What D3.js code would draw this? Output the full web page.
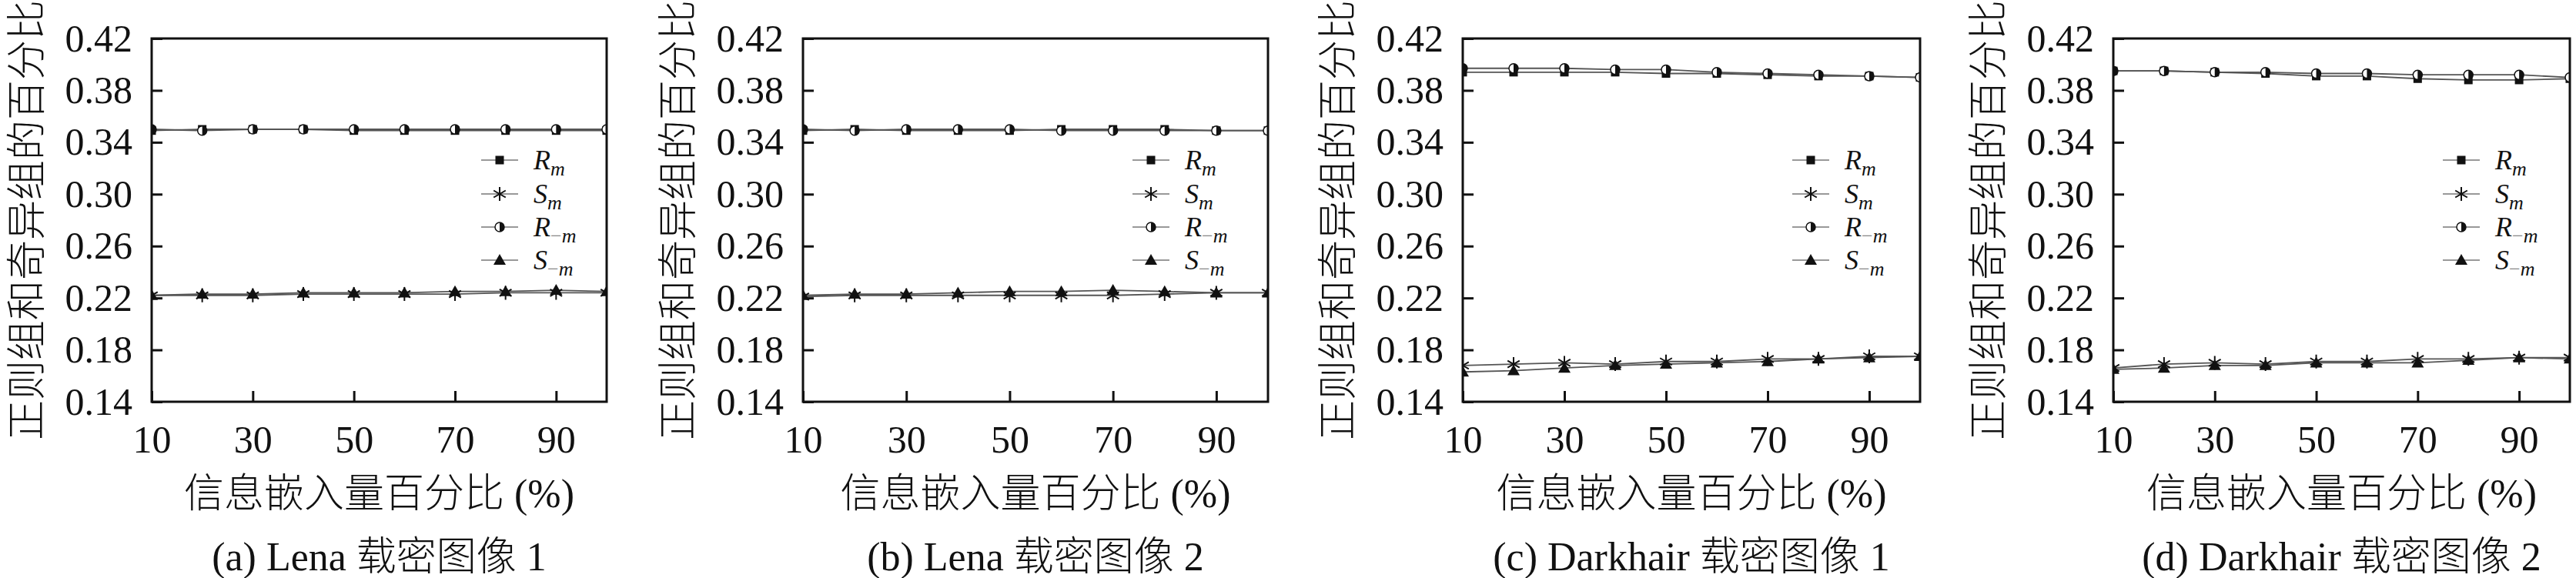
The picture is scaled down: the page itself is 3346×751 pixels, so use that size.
<!DOCTYPE html>
<html>
<head>
<meta charset="utf-8">
<script src="https://cdn.jsdelivr.net/npm/d3@7"></script>
<style>
  body { margin: 0; background: #fff; }
  text { font-family: "Liberation Serif", "Noto Sans CJK SC", serif; fill: #111; }
  .cjk { font-weight: 300; }
</style>
</head>
<body>
<div id="chart"></div>
<script>
// embedding percentage on the x axis
const xValues = [10, 20, 30, 40, 50, 60, 70, 80, 90, 100];
const xTicks = [10, 30, 50, 70, 90];
const yTicks = [0.14, 0.18, 0.22, 0.26, 0.30, 0.34, 0.38, 0.42];

const captions = ["(a) Lena 载密图像 1", "(b) Lena 载密图像 2",
                  "(c) Darkhair 载密图像 1", "(d) Darkhair 载密图像 2"];
const yTitle = "正则组和奇异组的百分比";
const xTitle = "信息嵌入量百分比 (%)";

// (a) Lena 1
const aRm    = [0.349, 0.350, 0.350, 0.350, 0.349, 0.349, 0.349, 0.349, 0.349, 0.349];
const aSm    = [0.222, 0.222, 0.222, 0.223, 0.223, 0.223, 0.223, 0.224, 0.224, 0.224];
const aRneg  = [0.350, 0.349, 0.350, 0.350, 0.350, 0.350, 0.350, 0.350, 0.350, 0.350];
const aSneg  = [0.222, 0.223, 0.223, 0.224, 0.224, 0.224, 0.225, 0.225, 0.226, 0.225];
// (b) Lena 2
const bRm    = [0.349, 0.350, 0.349, 0.349, 0.349, 0.350, 0.350, 0.350, 0.349, 0.349];
const bSm    = [0.221, 0.222, 0.222, 0.222, 0.222, 0.222, 0.222, 0.223, 0.224, 0.224];
const bRneg  = [0.350, 0.349, 0.350, 0.350, 0.350, 0.349, 0.349, 0.349, 0.349, 0.349];
const bSneg  = [0.222, 0.223, 0.223, 0.224, 0.225, 0.225, 0.226, 0.225, 0.224, 0.224];
// (c) Darkhair 1
const cRm    = [0.394, 0.394, 0.394, 0.394, 0.393, 0.393, 0.392, 0.391, 0.391, 0.390];
const cSm    = [0.168, 0.169, 0.170, 0.169, 0.171, 0.171, 0.173, 0.173, 0.175, 0.175];
const cRneg  = [0.397, 0.397, 0.397, 0.396, 0.396, 0.394, 0.393, 0.392, 0.391, 0.390];
const cSneg  = [0.163, 0.164, 0.166, 0.168, 0.169, 0.170, 0.171, 0.173, 0.174, 0.175];
// (d) Darkhair 2
const dRm    = [0.395, 0.395, 0.394, 0.393, 0.391, 0.391, 0.389, 0.388, 0.388, 0.389];
const dSm    = [0.166, 0.169, 0.170, 0.169, 0.171, 0.171, 0.173, 0.173, 0.174, 0.174];
const dRneg  = [0.395, 0.395, 0.394, 0.394, 0.393, 0.393, 0.392, 0.392, 0.392, 0.390];
const dSneg  = [0.165, 0.166, 0.168, 0.168, 0.170, 0.170, 0.170, 0.172, 0.174, 0.173];

const panelData = [
    [aRm, aSm, aRneg, aSneg],
    [bRm, bSm, bRneg, bSneg],
    [cRm, cSm, cRneg, cSneg],
    [dRm, dSm, dRneg, dSneg]
];
const markerTypes = ["square", "asterisk", "halfcircle", "triangle"];
const legendSub = ["m", "m", "−m", "−m"];
const legendMain = ["R", "S", "R", "S"];

// layout (pixels)
const panelLeft = [197, 1043, 1900, 2745];
const panelWidth = [591, 604, 594, 593];
const plotTop = 50, plotBottom = 522;

const svg = d3.select("#chart").append("svg")
    .attr("width", 3346)
    .attr("height", 751);

function drawMarker(g, type, cx, cy) {
    let m = g.append("g").attr("transform", "translate(" + cx + "," + cy + ")");
    if (type == "square") {
        m.append("rect").attr("x", -5.5).attr("y", -5.5).attr("width", 11).attr("height", 11)
            .attr("fill", "#111");
    } else if (type == "asterisk") {
        let r = 9;
        let p = d3.path();
        for (let a of [90, 30, 150]) {
            let t = a * Math.PI / 180;
            p.moveTo(-r * Math.cos(t), -r * Math.sin(t));
            p.lineTo(r * Math.cos(t), r * Math.sin(t));
        }
        m.append("path").attr("d", p.toString()).attr("stroke", "#111")
            .attr("stroke-width", 2).attr("fill", "none");
    } else if (type == "halfcircle") {
        let r = 6;
        m.append("circle").attr("r", r).attr("fill", "#fff")
            .attr("stroke", "#111").attr("stroke-width", 1.5);
        m.append("path").attr("d", "M0," + (-r) + "A" + r + "," + r + " 0 0 1 0," + r + "Z")
            .attr("fill", "#111");
    } else {
        m.append("path").attr("d", "M0,-8L8,6L-8,6Z").attr("fill", "#111");
    }
}

panelData.forEach(function (series, p) {
    let left = panelLeft[p], width = panelWidth[p];
    let g = svg.append("g");

    let x = d3.scaleLinear().domain([10, 100]).range([left, left + width]);
    let y = d3.scaleLinear().domain([0.14, 0.42]).range([plotBottom, plotTop]);

    let clipId = "clip" + p;
    g.append("clipPath").attr("id", clipId)
        .append("rect").attr("x", left).attr("y", plotTop)
        .attr("width", width).attr("height", plotBottom - plotTop);

    let plot = g.append("g").attr("clip-path", "url(#" + clipId + ")");

    let line = d3.line()
        .x(function (d, i) { return x(xValues[i]); })
        .y(function (d) { return y(d); });

    series.forEach(function (vals) {
        plot.append("path")
            .datum(vals)
            .attr("d", line)
            .attr("fill", "none")
            .attr("stroke", "#555")
            .attr("stroke-width", 1.8);
    });

    series.forEach(function (vals, s) {
        vals.forEach(function (v, i) {
            drawMarker(plot, markerTypes[s], x(xValues[i]), y(v));
        });
    });

    // axes with inward ticks
    let yAxis = g.append("g")
        .attr("transform", "translate(" + left + ",0)")
        .call(d3.axisLeft(y).tickValues(yTicks).tickSize(-14).tickPadding(25)
            .tickFormat(d3.format(".2f")));
    let xAxis = g.append("g")
        .attr("transform", "translate(0," + plotBottom + ")")
        .call(d3.axisBottom(x).tickValues(xTicks).tickSize(-14).tickPadding(30)
            .tickFormat(d3.format("d")));
    [yAxis, xAxis].forEach(function (a) {
        a.attr("font-family", null);
        a.select(".domain").remove();
        a.selectAll(".tick line").attr("stroke", "#111").attr("stroke-width", 3);
        a.selectAll(".tick text").attr("font-size", 50)
            .style("font-family", "'Liberation Serif', serif").attr("fill", "#111");
    });

    g.append("rect")
        .attr("x", left).attr("y", plotTop)
        .attr("width", width).attr("height", plotBottom - plotTop)
        .attr("fill", "none").attr("stroke", "#111").attr("stroke-width", 3);

    // axis titles and caption
    g.append("text")
        .attr("class", "cjk")
        .attr("transform", "translate(" + (left - 162) + "," + ((plotTop + plotBottom) / 2) + ") rotate(-90)")
        .attr("text-anchor", "middle")
        .attr("dominant-baseline", "central")
        .attr("font-size", 52)
        .text(yTitle);

    g.append("text")
        .attr("class", "cjk")
        .attr("x", left + width / 2).attr("y", 659)
        .attr("text-anchor", "middle")
        .attr("font-size", 52)
        .text(xTitle);

    g.append("text")
        .attr("class", "cjk")
        .attr("x", left + width / 2).attr("y", 741)
        .attr("text-anchor", "middle")
        .attr("font-size", 52)
        .text(captions[p]);

    // legend
    let rows = [208, 252, 295, 338];
    markerTypes.forEach(function (type, s) {
        let ly = rows[s];
        g.append("line")
            .attr("x1", left + 428).attr("x2", left + 476)
            .attr("y1", ly).attr("y2", ly)
            .attr("stroke", "#777").attr("stroke-width", 1.5);
        drawMarker(g, type, left + 452, ly);

        let t = g.append("text")
            .attr("x", left + 496).attr("y", ly + 12)
            .attr("font-size", 36)
            .style("font-style", "italic");
        t.append("tspan").text(legendMain[s]);
        let sub = t.append("tspan").attr("dy", 8).attr("font-size", 26);
        if (legendSub[s].length > 1) {
            sub.append("tspan").attr("fill", "#888").style("font-style", "normal").text("−");
            sub.append("tspan").text("m");
        } else {
            sub.text("m");
        }
    });
});
</script>
</body>
</html>
